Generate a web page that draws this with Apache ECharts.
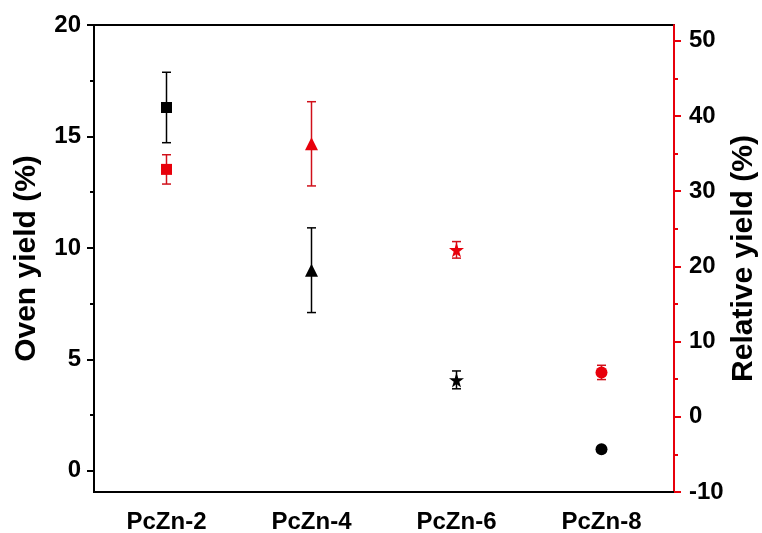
<!DOCTYPE html>
<html>
<head>
<meta charset="utf-8">
<script src="https://cdn.jsdelivr.net/npm/echarts@6/dist/echarts.min.js"></script>
<style>
  html, body { margin: 0; padding: 0; background: #fff; }
  #chart { width: 762px; height: 533px; }
</style>
</head>
<body>
<div id="chart"></div>
<script>
// data
const categories = ['PcZn-2', 'PcZn-4', 'PcZn-6', 'PcZn-8'];
const ovenYield = [16.3, 9.0, 4.08, 0.97];
const ovenErr = [1.58, 1.9, 0.4, 0.05];
const relYield = [32.9, 36.3, 22.2, 5.9];
const relErr = [1.95, 5.6, 1.1, 0.95];
const leftTicks = [0, 5, 10, 15, 20];
const leftMinor = [2.5, 7.5, 12.5, 17.5];
const rightTicks = [-10, 0, 10, 20, 30, 40, 50];
const rightMinor = [-5, 5, 15, 25, 35, 45];

const STAR = 'path://M50,0 L61,35 L98,35 L68,57 L79,91 L50,70 L21,91 L32,57 L2,35 L39,35 Z';
const markers = ['rect', 'triangle', STAR, 'circle'];
const markerSize = [11, 13, 15, 12];

const RED = '#e8000b';
const FONT = '"Liberation Sans", Arial, sans-serif';

const chart = echarts.init(document.getElementById('chart'));

// error bar drawn with custom series (vertical line + two caps)
const errorBar = (color) => (params, api) => {
  const x = api.value(0);
  const top = api.coord([x, api.value(2)]);
  const bot = api.coord([x, api.value(1)]);
  const hw = 4.5;
  const style = { stroke: color, lineWidth: 1.5 };
  return {
    type: 'group',
    children: [
      { type: 'line', shape: { x1: top[0], y1: top[1], x2: bot[0], y2: bot[1] }, style },
      { type: 'line', shape: { x1: top[0] - hw, y1: top[1], x2: top[0] + hw, y2: top[1] }, style },
      { type: 'line', shape: { x1: bot[0] - hw, y1: bot[1], x2: bot[0] + hw, y2: bot[1] }, style }
    ]
  };
};

const labelStyle = { color: '#000', fontFamily: FONT, fontWeight: 'bold', fontSize: 24 };
const nameStyle = { color: '#000', fontFamily: FONT, fontWeight: 'bold', fontSize: 30 };

const option = {
  animation: false,
  grid: {
    left: 94, right: 88, top: 25, bottom: 41,
    show: true, borderColor: '#000', borderWidth: 2,
    outerBoundsMode: 'none'
  },
  xAxis: [
    {
      type: 'category',
      data: categories,
      position: 'bottom',
      axisLine: { onZero: false, lineStyle: { color: '#000', width: 2 } },
      axisTick: { alignWithLabel: true, length: 7, lineStyle: { color: '#000', width: 2 } },
      axisLabel: { ...labelStyle, margin: 18 },
      splitLine: { show: false }
    },
    {
      type: 'category',
      data: categories,
      position: 'bottom',
      axisLine: { show: false, onZero: false },
      axisTick: { alignWithLabel: false, length: 4, lineStyle: { color: '#000', width: 2 } },
      axisLabel: { show: false },
      splitLine: { show: false }
    }
  ],
  yAxis: [
    {
      type: 'value',
      position: 'left',
      min: -0.95, max: 20,
      name: 'Oven yield (%)',
      nameLocation: 'middle',
      nameRotate: 90,
      nameGap: 52,
      nameMoveOverlap: false,
      nameTextStyle: nameStyle,
      axisLine: { show: true, lineStyle: { color: '#000', width: 2 } },
      axisTick: { show: true, length: 7, customValues: leftTicks, lineStyle: { color: '#000', width: 2 } },
      axisLabel: { ...labelStyle, margin: 13, customValues: leftTicks },
      splitLine: { show: false }
    },
    {
      type: 'value',
      position: 'left',
      min: -0.95, max: 20,
      axisLine: { show: false },
      axisTick: { show: true, length: 4, customValues: leftMinor, lineStyle: { color: '#000', width: 2 } },
      axisLabel: { show: false },
      splitLine: { show: false }
    },
    {
      type: 'value',
      position: 'right',
      min: -10, max: 52.1,
      name: 'Relative yield (%)',
      nameLocation: 'middle',
      nameRotate: 90,
      nameGap: 55,
      nameMoveOverlap: false,
      nameTextStyle: nameStyle,
      axisLine: { show: true, lineStyle: { color: RED, width: 2 } },
      axisTick: { show: true, length: 7, customValues: rightTicks, lineStyle: { color: RED, width: 2 } },
      axisLabel: { ...labelStyle, margin: 15, customValues: rightTicks },
      splitLine: { show: false }
    },
    {
      type: 'value',
      position: 'right',
      min: -10, max: 52.1,
      axisLine: { show: false },
      axisTick: { show: true, length: 4, customValues: rightMinor, lineStyle: { color: RED, width: 2 } },
      axisLabel: { show: false },
      splitLine: { show: false }
    }
  ],
  series: [
    {
      type: 'custom',
      xAxisIndex: 0, yAxisIndex: 0,
      renderItem: errorBar('#000'),
      data: ovenYield.map((v, i) => [i, v - ovenErr[i], v + ovenErr[i]]),
      z: 2
    },
    {
      type: 'custom',
      xAxisIndex: 0, yAxisIndex: 2,
      renderItem: errorBar('#d0101a'),
      data: relYield.map((v, i) => [i, v - relErr[i], v + relErr[i]]),
      z: 2
    },
    {
      name: 'Oven yield',
      type: 'scatter',
      xAxisIndex: 0, yAxisIndex: 0,
      itemStyle: { color: '#000', opacity: 1 },
      data: ovenYield.map((v, i) => ({ value: [i, v], symbol: markers[i], symbolSize: markerSize[i] })),
      z: 5
    },
    {
      name: 'Relative yield',
      type: 'scatter',
      xAxisIndex: 0, yAxisIndex: 2,
      itemStyle: { color: RED, opacity: 1 },
      data: relYield.map((v, i) => ({ value: [i, v], symbol: markers[i], symbolSize: markerSize[i] })),
      z: 5
    }
  ]
};

chart.setOption(option);
</script>
</body>
</html>
